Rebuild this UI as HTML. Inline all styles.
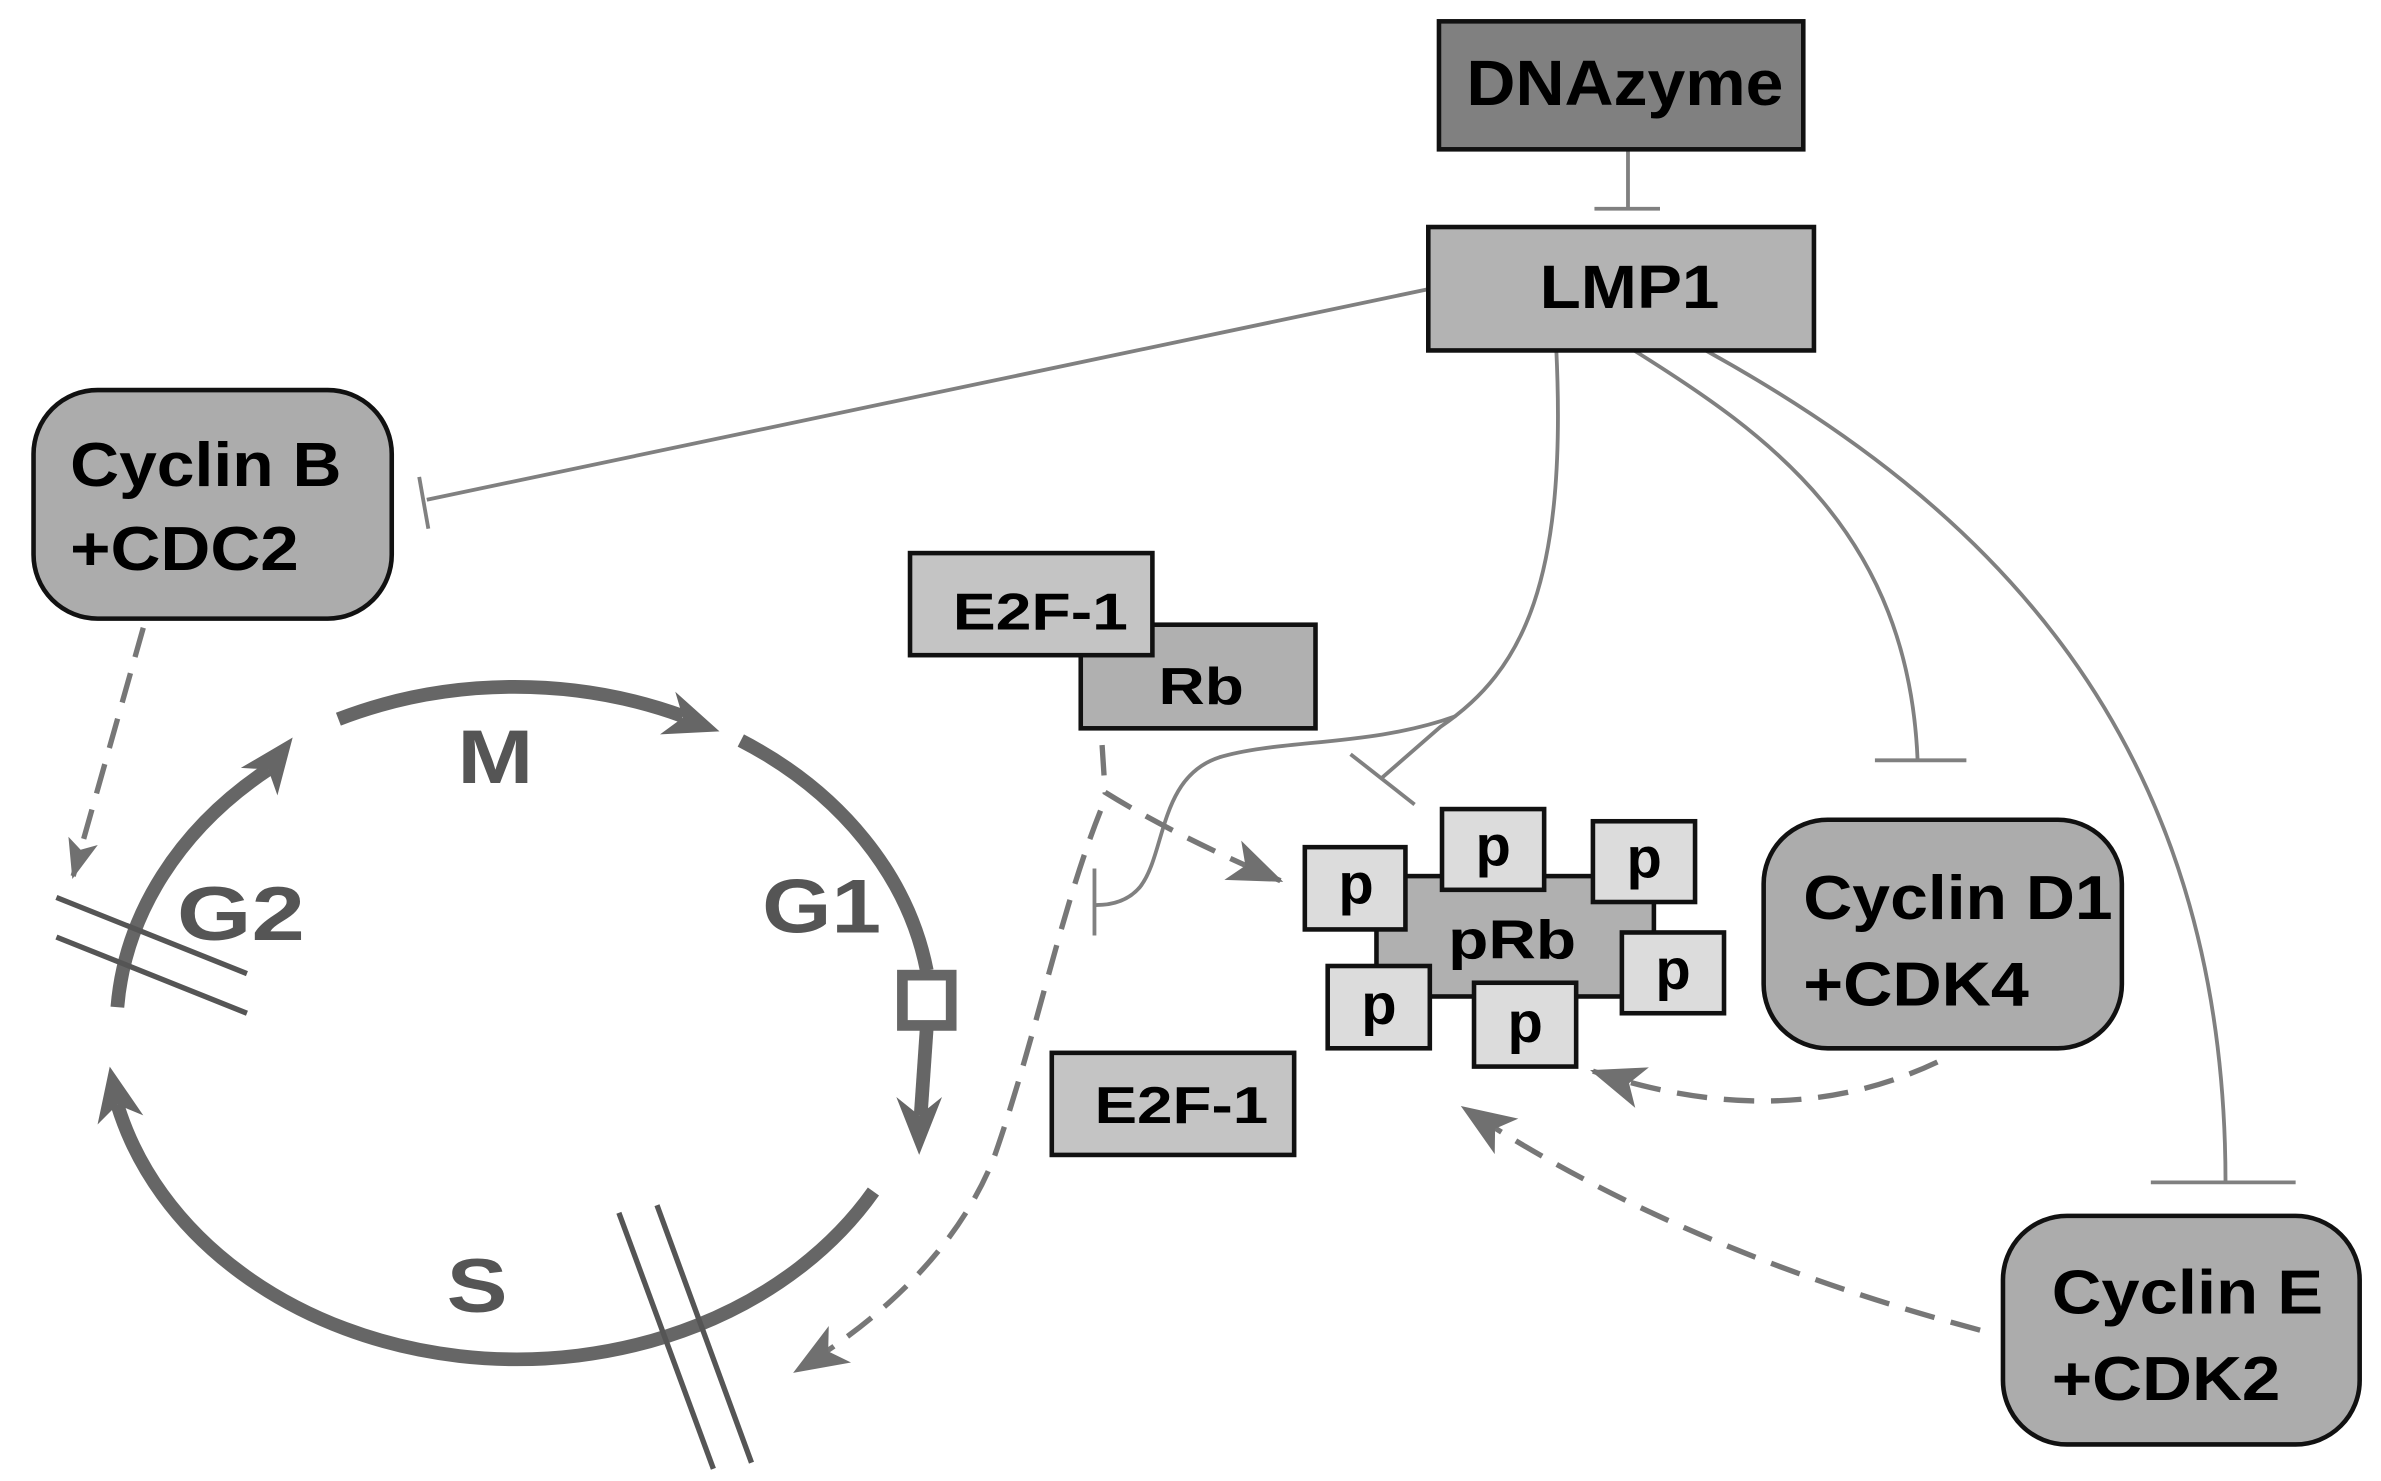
<!DOCTYPE html>
<html><head><meta charset="utf-8"><style>
html,body{margin:0;padding:0;background:#fff;}
svg{display:block;}
text{font-family:"Liberation Sans",Arial,sans-serif;font-weight:bold;}
</style></head><body>
<svg width="2381" height="1481" viewBox="0 0 1562 972" preserveAspectRatio="none" xmlns="http://www.w3.org/2000/svg">
<defs>
<marker id="ad" markerUnits="userSpaceOnUse" markerWidth="40" markerHeight="36" refX="34" refY="18" orient="auto" overflow="visible"><path d="M0,4 L36,18 L0,32 L9,18 Z" fill="#707070"/></marker>
<marker id="as" markerUnits="userSpaceOnUse" markerWidth="28" markerHeight="26" refX="24" refY="13" orient="auto" overflow="visible"><path d="M0,3 L26,13 L0,23 L6,13 Z" fill="#707070"/></marker>
</defs>
<rect width="1562" height="972" fill="#fff"/>

<g stroke="#808080" stroke-width="2.5" fill="none">
<line x1="1068" y1="98" x2="1068" y2="137"/>
<line x1="1046" y1="137" x2="1089" y2="137"/>
<line x1="936" y1="190" x2="280" y2="328"/>
<line x1="275" y1="313" x2="281" y2="347"/>
<path d="M1021,230 C1028,380 1000,440 945,477 L906,511"/>
<line x1="886" y1="495" x2="928" y2="528"/>
<path d="M955,470 C900,490 840,485 800,497 C760,510 765,560 748,582 Q738,594 719,594"/>
<line x1="718" y1="570" x2="718" y2="614"/>
<path d="M1072,230 C1160,285 1252,350 1258,499"/>
<line x1="1230" y1="499" x2="1290" y2="499"/>
<path d="M1119,230 C1300,330 1460,480 1460,776"/>
<line x1="1411" y1="776" x2="1506" y2="776"/>
</g>

<g stroke="#777" stroke-width="3.5" fill="none" stroke-dasharray="20 11">
<path d="M94,412 L48,575" marker-end="url(#as)"/>
<path d="M723,489 L725,520 Q770,548 840,578" marker-end="url(#ad)"/>
<path d="M722,532 C695,600 680,680 652,760 Q620,840 522,900" marker-end="url(#ad)"/>
<path d="M1271,697 Q1170,745 1045,703" marker-end="url(#ad)"/>
<path d="M1299,873 Q1100,820 960,727" marker-end="url(#ad)"/>
</g>

<g stroke="#666" stroke-width="9" fill="none">
<path d="M222,472 A270,220 0 0 1 448,470"/>
<path d="M486,486 A270,220 0 0 1 608,637"/>
<path d="M608,674 L604,732"/>
<path d="M573,782 A270,220 0 0 1 77,725"/>
<path d="M77,661 A270,220 0 0 1 176,505"/>
<rect x="592" y="640" width="32" height="33" stroke-width="7"/>
</g>
<g fill="#666">
<polygon points="472,480 443,454 448,471 433,482"/>
<polygon points="192,484 158,504 176,505 182,522"/>
<polygon points="603,758 588,720 603,732 618,720"/>
<polygon points="72,700 64,738 77,725 94,732"/>
</g>
<g stroke="#555" stroke-width="3.5">
<line x1="37" y1="589" x2="162" y2="639"/>
<line x1="37" y1="615" x2="162" y2="665"/>
<line x1="406" y1="796" x2="468" y2="964"/>
<line x1="431" y1="791" x2="493" y2="960"/>
</g>
<g fill="#555" font-size="50">
<text x="300" y="514" textLength="50" lengthAdjust="spacingAndGlyphs">M</text>
<text x="500" y="612" textLength="78" lengthAdjust="spacingAndGlyphs">G1</text>
<text x="116" y="617" textLength="84" lengthAdjust="spacingAndGlyphs">G2</text>
<text x="293" y="861" textLength="40" lengthAdjust="spacingAndGlyphs">S</text>
</g>

<g stroke="#111" stroke-width="3">
<rect x="944" y="14" width="239" height="84" fill="#808080"/>
<rect x="937" y="149" width="253" height="81" fill="#b3b3b3"/>
<rect x="22" y="256" width="235" height="150" rx="42" fill="#acacac"/>
<rect x="1157" y="538" width="235" height="150" rx="42" fill="#acacac"/>
<rect x="1314" y="798" width="234" height="150" rx="42" fill="#acacac"/>
<rect x="709" y="410" width="154" height="68" fill="#b0b0b0"/>
<rect x="597" y="363" width="159" height="67" fill="#c4c4c4"/>
<rect x="690" y="691" width="159" height="67" fill="#c4c4c4"/>
<rect x="903" y="575" width="182" height="79" fill="#b0b0b0"/>
<rect x="856" y="556" width="66" height="54" fill="#dcdcdc"/>
<rect x="946" y="531" width="67" height="53" fill="#dcdcdc"/>
<rect x="1045" y="539" width="67" height="53" fill="#dcdcdc"/>
<rect x="1064" y="612" width="67" height="53" fill="#dcdcdc"/>
<rect x="871" y="634" width="67" height="54" fill="#dcdcdc"/>
<rect x="967" y="645" width="67" height="55" fill="#dcdcdc"/>
</g>
<g fill="#000">
<text x="962" y="69" font-size="42" textLength="208" lengthAdjust="spacingAndGlyphs">DNAzyme</text>
<text x="1010" y="202" font-size="40" textLength="118" lengthAdjust="spacingAndGlyphs">LMP1</text>
<text x="46" y="319" font-size="41" textLength="178" lengthAdjust="spacingAndGlyphs">Cyclin B</text>
<text x="46" y="374" font-size="41" textLength="150" lengthAdjust="spacingAndGlyphs">+CDC2</text>
<text x="1183" y="603" font-size="41" textLength="203" lengthAdjust="spacingAndGlyphs">Cyclin D1</text>
<text x="1183" y="660" font-size="41" textLength="148" lengthAdjust="spacingAndGlyphs">+CDK4</text>
<text x="1346" y="862" font-size="41" textLength="178" lengthAdjust="spacingAndGlyphs">Cyclin E</text>
<text x="1346" y="919" font-size="41" textLength="150" lengthAdjust="spacingAndGlyphs">+CDK2</text>
<text x="625" y="413" font-size="34" textLength="115" lengthAdjust="spacingAndGlyphs">E2F-1</text>
<text x="760" y="462" font-size="34" textLength="56" lengthAdjust="spacingAndGlyphs">Rb</text>
<text x="718" y="737" font-size="34" textLength="114" lengthAdjust="spacingAndGlyphs">E2F-1</text>
<text x="950" y="629" font-size="36" textLength="84" lengthAdjust="spacingAndGlyphs">pRb</text>
<g font-size="38">
<text x="878" y="593">p</text>
<text x="968" y="568">p</text>
<text x="1067" y="576">p</text>
<text x="1086" y="649">p</text>
<text x="893" y="672">p</text>
<text x="989" y="684">p</text>
</g>
</g>
</svg>
</body></html>
